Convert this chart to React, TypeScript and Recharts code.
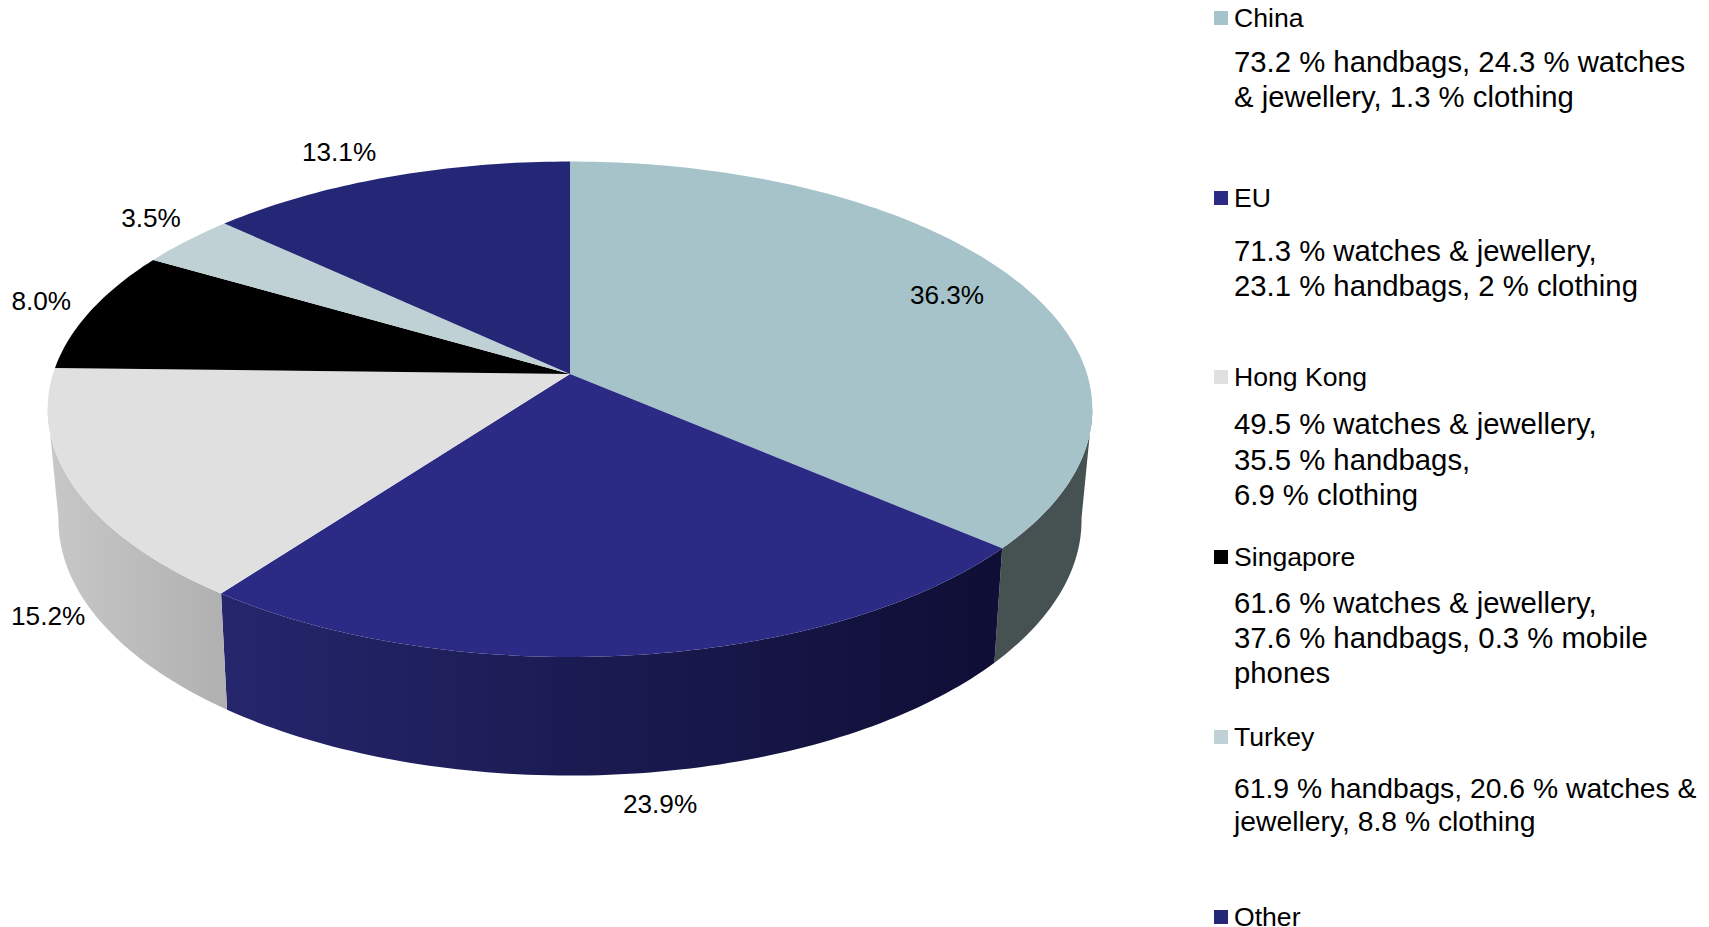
import React from 'react';
import { PieChart, Pie, Legend } from 'recharts';

const regions = ['China', 'EU', 'Hong Kong', 'Singapore', 'Turkey', 'Other'];
const shares = [36.3, 23.9, 15.2, 8.0, 3.5, 13.1];
const topColors = ['#A5C3C8', '#2B2A84', '#E0E0E0', '#000000', '#BFD1D4', '#242676'];
const wallColors = ['#465252', 'url(#wallEu)', 'url(#wallHk)', 'none', 'none', 'none'];
const notes = [
  ['73.2 % handbags, 24.3 % watches', '& jewellery, 1.3 % clothing'],
  ['71.3 % watches & jewellery,', '23.1 % handbags, 2 % clothing'],
  ['49.5 % watches & jewellery,', '35.5 % handbags,', '6.9 % clothing'],
  ['61.6 % watches & jewellery,', '37.6 % handbags, 0.3 % mobile', 'phones'],
  ['61.9 % handbags, 20.6 % watches &', 'jewellery, 8.8 % clothing'],
  [],
];

// label offsets from the rim point of each slice
const labelNudge = [
  [-66.5, 17],
  [24, 149.5],
  [-26, 128.5],
  [-50, -9],
  [-36, -23],
  [-48, -25],
];
const legendNameY = [18, 198, 377, 557, 737, 917];
const legendNoteY = [62, 251, 424, 603, 788, 0];
const legendLineH = [35, 35, 35.5, 35, 33, 0];
const legendNoteFont = [29.3, 29.3, 29.3, 29.3, 28.3, 29.3];

const topData = regions.map((name, i) => ({ name, value: shares[i], fill: topColors[i] }));
const wallData = regions.map((name, i) => ({ name, value: shares[i], fill: wallColors[i] }));

const CX = 570;
const CY = 374;
const RX = 517;
// perspective of the disc: top face and bottom face
const TOP = { dy: 0, rx: 1, ry: 242.7 / 517, k: 0.1423 };
const BOTTOM = { dy: 108.5, rx: 506 / 517, ry: 250 / 517, k: 0.147 };

const project = (angle: number, r: number, cx: number, cy: number, f: typeof TOP) => {
  const t = ((90 - angle) * Math.PI) / 180;
  const u = Math.sin(t);
  const v = -Math.cos(t);
  const d = 1 - f.k * v;
  return [cx + (r * f.rx * u) / d, cy + f.dy + (r * f.ry * v) / d];
};

const arcPoints = (a0: number, a1: number, r: number, cx: number, cy: number, f: typeof TOP) => {
  const steps = Math.max(2, Math.ceil(Math.abs(a1 - a0)));
  const pts: number[][] = [];
  for (let i = 0; i <= steps; i++) pts.push(project(a0 + ((a1 - a0) * i) / steps, r, cx, cy, f));
  return pts;
};

const toPath = (pts: number[][]) =>
  pts.map((p, i) => `${i ? 'L' : 'M'}${p[0].toFixed(2)} ${p[1].toFixed(2)}`).join(' ') + ' Z';

const TopSlice = (props: any) => {
  const { cx, cy, outerRadius, startAngle, endAngle, fill } = props;
  const pts = [[cx, cy], ...arcPoints(startAngle, endAngle, outerRadius, cx, cy, TOP)];
  return <path d={toPath(pts)} fill={fill} stroke="none" />;
};

// side wall, only between the two silhouette angles
const WallSlice = (props: any) => {
  const { cx, cy, outerRadius, startAngle, endAngle, fill } = props;
  const a0 = Math.min(startAngle, -8);
  const a1 = Math.max(endAngle, -172);
  if (a0 <= a1) return null;
  const upper = arcPoints(a0, a1, outerRadius, cx, cy, TOP);
  const lower = arcPoints(a1, a0, outerRadius, cx, cy, BOTTOM);
  return <path d={toPath([...upper, ...lower])} fill={fill} stroke="none" />;
};

const renderLabel = (props: any) => {
  const { cx, cy, midAngle, outerRadius, value, index } = props;
  const [x, y] = project(midAngle, outerRadius, cx, cy, TOP);
  return (
    <text
      x={x + labelNudge[index][0]}
      y={y + labelNudge[index][1]}
      textAnchor="middle"
      dominantBaseline="central"
      fontFamily="Liberation Sans"
      fontSize={26.2}
      fill="#000"
    >
      {value.toFixed(1)}%
    </text>
  );
};

const LegendBlock = () => (
  <div style={{ position: 'relative', fontFamily: 'Liberation Sans', color: '#000' }}>
    {regions.map((name, i) => (
      <React.Fragment key={name}>
        <div
          style={{
            position: 'absolute',
            left: 0,
            top: legendNameY[i] - 7,
            width: 14,
            height: 14,
            background: topColors[i],
          }}
        />
        <div
          style={{
            position: 'absolute',
            left: 20,
            top: legendNameY[i] - 10,
            fontSize: 26.6,
            lineHeight: '20px',
            whiteSpace: 'nowrap',
          }}
        >
          {name}
        </div>
        {notes[i].map((line, j) => (
          <div
            key={line}
            style={{
              position: 'absolute',
              left: 20,
              top: legendNoteY[i] + j * legendLineH[i] - 18,
              fontSize: legendNoteFont[i],
              lineHeight: '36px',
              whiteSpace: 'nowrap',
            }}
          >
            {line}
          </div>
        ))}
      </React.Fragment>
    ))}
  </div>
);

export default function App() {
  return (
    <div style={{ position: 'absolute', left: 0, top: 0, width: 1709, height: 927, background: '#fff' }}>
      <PieChart width={1709} height={927} margin={{ top: 0, right: 0, bottom: 0, left: 0 }}>
        <defs>
          <linearGradient id="wallEu" x1="0" y1="0" x2="1" y2="0">
            <stop offset="0%" stopColor="#25266C" />
            <stop offset="100%" stopColor="#0F0E35" />
          </linearGradient>
          <linearGradient id="wallHk" x1="0" y1="0" x2="1" y2="0">
            <stop offset="0%" stopColor="#C8C8C8" />
            <stop offset="100%" stopColor="#B0B0B0" />
          </linearGradient>
        </defs>
        <Pie
          data={wallData}
          dataKey="value"
          nameKey="name"
          cx={CX}
          cy={CY}
          outerRadius={RX}
          startAngle={90}
          endAngle={-270}
          stroke="none"
          legendType="none"
          label={false}
          labelLine={false}
          shape={WallSlice}
          isAnimationActive={false}
        />
        <Pie
          data={topData}
          dataKey="value"
          nameKey="name"
          cx={CX}
          cy={CY}
          outerRadius={RX}
          startAngle={90}
          endAngle={-270}
          stroke="none"
          label={renderLabel}
          labelLine={false}
          shape={TopSlice}
          isAnimationActive={false}
        />
        <Legend
          content={<LegendBlock />}
          wrapperStyle={{ position: 'absolute', left: 1214, top: 0, width: 495, height: 0 }}
        />
      </PieChart>
    </div>
  );
}
